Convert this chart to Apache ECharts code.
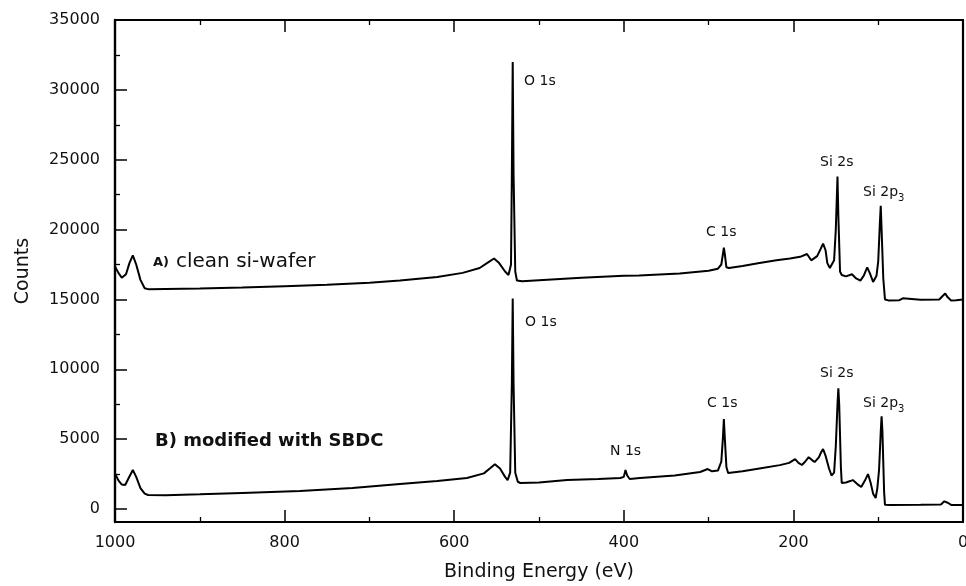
<!DOCTYPE html>
<html>
<head>
<meta charset="utf-8">
<script src="https://cdn.jsdelivr.net/npm/echarts@6/dist/echarts.min.js"></script>
<style>
  html, body { margin: 0; padding: 0; background: #fff; }
  #chart { width: 966px; height: 586px; }
</style>
</head>
<body>
<div id="chart"></div>
<script>
// A) clean si-wafer
const energyA = [1000, 996, 992, 987, 983, 979, 975, 970, 965, 960, 900, 850, 800, 750, 700, 664, 620, 590, 570, 560, 553, 547, 540, 536, 533, 532, 531, 530, 528, 526, 520, 500, 450, 400, 382, 334, 300, 289, 285, 283, 282, 281, 279, 276, 260, 240, 220, 204, 192, 184, 179, 172, 168, 165, 162, 160, 157, 152, 150, 148, 147, 145, 143, 138, 131, 126, 121, 117, 113, 110, 106, 104, 102, 100, 98, 97, 96, 94, 92, 88, 75, 73, 71, 69, 50, 28, 24, 21, 18, 14, 8, 0];
const countsA = [17350, 16900, 16550, 16800, 17600, 18150, 17500, 16400, 15800, 15720, 15780, 15850, 15950, 16050, 16200, 16350, 16600, 16900, 17250, 17650, 17930, 17600, 17000, 16750, 17500, 24000, 32000, 24000, 17000, 16350, 16300, 16380, 16550, 16700, 16720, 16860, 17050, 17200, 17500, 18300, 18700, 18300, 17300, 17250, 17400, 17600, 17800, 17930, 18050, 18250, 17800, 18100, 18600, 19000, 18500, 17600, 17250, 17800, 20000, 23800, 21000, 17000, 16750, 16650, 16800, 16500, 16350, 16700, 17300, 16900, 16250, 16150, 16700, 17700, 20500, 21700, 20000, 16500, 15000, 14930, 14950, 15000, 15080, 14950, 14980, 15000, 15250, 15430, 15150, 14930, 14950, 15000];

// B) modified with SBDC
const energyB = [1000, 996, 992, 988, 984, 979, 975, 970, 965, 961, 940, 900, 850, 782, 720, 664, 620, 585, 565, 558, 552, 546, 540, 537, 534, 532, 531, 530, 528, 525, 522, 500, 467, 430, 404, 400, 398, 396, 393, 381, 340, 310, 301, 296, 289, 285, 283, 282, 281, 279, 277, 260, 240, 216, 205, 198, 194, 190, 186, 182, 178, 175, 170, 167, 165, 162, 158, 155, 152, 150, 148, 147, 146, 144, 143, 138, 133, 130, 125, 120, 116, 112, 109, 106, 103, 101, 99, 97, 96, 95, 93, 92, 85, 50, 26, 22, 20, 18, 14, 0];
const countsB = [2550, 2050, 1750, 1720, 2200, 2790, 2300, 1500, 1100, 1000, 980, 1050, 1150, 1290, 1500, 1790, 2000, 2220, 2550, 2900, 3210, 2900, 2300, 2070, 2600, 9000, 15070, 9000, 2600, 1950, 1860, 1900, 2070, 2150, 2220, 2300, 2790, 2400, 2150, 2220, 2400, 2650, 2860, 2700, 2750, 3400, 5200, 6430, 5200, 3000, 2570, 2700, 2900, 3140, 3300, 3570, 3300, 3150, 3400, 3710, 3500, 3360, 3700, 4100, 4290, 3800, 2900, 2400, 2600, 4500, 7500, 8640, 7500, 3000, 1860, 1900, 2000, 2070, 1800, 1570, 2000, 2500, 1900, 1100, 790, 1500, 2790, 5500, 6640, 5500, 1200, 300, 290, 300, 320, 550, 640, 450, 290, 290];

const yMajor = [0, 5000, 10000, 15000, 20000, 25000, 30000, 35000];
const yMinor = [2500, 7500, 12500, 17500, 22500, 27500, 32500];
const yMin = -930, yMax = 35000;

const font = 'DejaVu Sans';
const ink = '#111';
const plain = v => String(v);

function zip(xs, ys) {
    return xs.map((x, i) => [x, ys[i]]);
}

function label(text, x, y, size, bold) {
    return {
        type: 'text', x: x, y: y,
        style: { text: text, fontFamily: font, fontSize: size || 14, fontWeight: bold ? 'bold' : 'normal', fill: ink, verticalAlign: 'middle' }
    };
}

const gridBox = { left: 115, right: 3, top: 20, bottom: 64, outerBoundsMode: 'none', containLabel: false };

let myChart = echarts.init(document.getElementById('chart'));
myChart.setOption({
    animation: false,
    backgroundColor: '#fff',
    grid: [gridBox, Object.assign({}, gridBox)],
    xAxis: [{
        type: 'value', gridIndex: 0, position: 'bottom', inverse: true,
        min: 0, max: 1000, interval: 200,
        name: 'Binding Energy (eV)', nameLocation: 'middle', nameGap: 41,
        nameTextStyle: { fontFamily: font, fontSize: 19, color: ink },
        axisLine: { onZero: false, lineStyle: { color: '#000', width: 2.2 } },
        axisTick: { inside: true, length: 12, lineStyle: { color: '#000', width: 1.5 } },
        minorTick: { show: true, splitNumber: 2, length: 5, lineStyle: { color: '#000', width: 1.3 } },
        splitLine: { show: false },
        axisLabel: { fontFamily: font, fontSize: 16, color: ink, margin: 13, formatter: plain }
    }, {
        type: 'value', gridIndex: 0, position: 'top', inverse: true,
        min: 0, max: 1000, interval: 200,
        axisLine: { onZero: false, lineStyle: { color: '#000', width: 2 } },
        axisTick: { inside: true, length: 12, lineStyle: { color: '#000', width: 1.5 } },
        minorTick: { show: true, splitNumber: 2, length: 5, lineStyle: { color: '#000', width: 1.3 } },
        splitLine: { show: false },
        axisLabel: { show: false }
    }, {
        type: 'value', gridIndex: 1, position: 'bottom', inverse: true,
        min: 0, max: 1000, show: false
    }],
    yAxis: [{
        type: 'value', gridIndex: 0, position: 'left', min: yMin, max: yMax,
        name: 'Counts', nameLocation: 'middle', nameGap: 82, nameRotate: 90,
        nameTextStyle: { fontFamily: font, fontSize: 19, color: ink },
        axisLine: { onZero: false, lineStyle: { color: '#000', width: 2.4 } },
        axisTick: { inside: true, length: 12, customValues: yMajor, lineStyle: { color: '#000', width: 1.5 } },
        splitLine: { show: false },
        axisLabel: { fontFamily: font, fontSize: 16, color: ink, margin: 15, customValues: yMajor, formatter: plain }
    }, {
        type: 'value', gridIndex: 0, position: 'right', min: yMin, max: yMax,
        axisLine: { onZero: false, show: true, lineStyle: { color: '#000', width: 2.2 } },
        axisTick: { show: false },
        splitLine: { show: false },
        axisLabel: { show: false }
    }, {
        type: 'value', gridIndex: 1, position: 'left', min: yMin, max: yMax,
        axisLine: { onZero: false, show: false },
        axisTick: { inside: true, length: 5, customValues: yMinor, lineStyle: { color: '#000', width: 1.3 } },
        splitLine: { show: false },
        axisLabel: { show: false }
    }],
    series: [{
        name: 'A) clean si-wafer', type: 'line', xAxisIndex: 0, yAxisIndex: 0,
        data: zip(energyA, countsA), showSymbol: false,
        lineStyle: { color: '#000', width: 2 }
    }, {
        name: 'B) modified with SBDC', type: 'line', xAxisIndex: 0, yAxisIndex: 0,
        data: zip(energyB, countsB), showSymbol: false,
        lineStyle: { color: '#000', width: 2 }
    }],
    graphic: [
        label('O 1s', 524, 81),
        label('C 1s', 706, 232),
        label('Si 2s', 820, 162),
        label('Si 2p', 863, 192),
        label('3', 898, 198, 10),
        label('A)', 153, 263, 13, true),
        label('clean si-wafer', 176, 262, 20),
        label('O 1s', 525, 322),
        label('N 1s', 610, 451),
        label('C 1s', 707, 403),
        label('Si 2s', 820, 373),
        label('Si 2p', 863, 403),
        label('3', 898, 409, 10),
        label('B) modified with SBDC', 155, 441, 18, true)
    ]
});
</script>
</body>
</html>
